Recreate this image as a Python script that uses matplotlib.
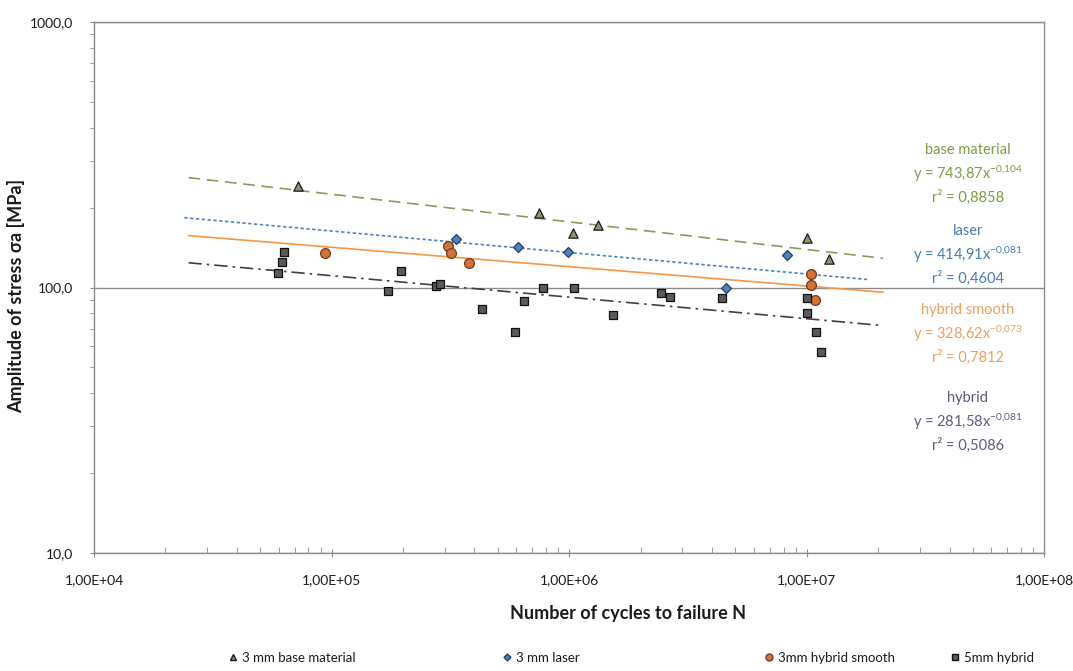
import numpy as np
import matplotlib
matplotlib.use("Agg")
import matplotlib.pyplot as plt
from matplotlib.lines import Line2D

plt.rcParams['font.family'] = ['Lato', 'DejaVu Sans']
plt.rcParams['mathtext.default'] = 'regular'

# 3 mm base material
base_n = [7.2e4, 7.5e5, 1.04e6, 1.33e6, 1.0e7, 1.24e7]
base_s = [241, 191, 161, 172, 154, 128]

# 3 mm laser
laser_n = [3.33e5, 6.1e5, 9.9e5, 4.6e6, 8.3e6]
laser_s = [152, 142, 136, 100, 133]

# 3mm hybrid smooth
smooth_n = [9.4e4, 3.1e5, 3.2e5, 3.8e5, 1.04e7, 1.04e7, 1.09e7]
smooth_s = [135, 143, 135, 124, 112, 102, 90]

# 5mm hybrid
hybrid_n = [6.3e4, 6.2e4, 5.95e4, 1.96e5, 1.73e5, 2.75e5, 2.87e5, 7.8e5, 1.05e6,
            6.45e5, 4.3e5, 1.53e6, 5.9e5, 2.43e6, 2.66e6, 4.4e6, 1.0e7, 1.0e7,
            1.1e7, 1.15e7]
hybrid_s = [136, 125, 113, 115, 97, 101, 103, 100, 100, 89, 83, 79, 68, 95, 92,
            91, 91, 80, 68, 57]

# power trendlines y = a * x^b
fit_names = ['base material', 'laser', 'hybrid smooth', 'hybrid']
fit_a = [743.87, 414.91, 328.62, 281.58]
fit_b = [-0.104, -0.081, -0.073, -0.081]
fit_a_txt = ['743,87', '414,91', '328,62', '281,58']
fit_b_txt = ['0{,}104', '0{,}081', '0{,}073', '0{,}081']
fit_r2 = ['0,8858', '0,4604', '0,7812', '0,5086']
fit_start = [2.5e4, 2.4e4, 2.5e4, 2.5e4]
fit_end = [2.1e7, 1.8e7, 2.1e7, 2.1e7]

xticks = [1e4, 1e5, 1e6, 1e7, 1e8]
xtick_labels = ['1,00E+04', '1,00E+05', '1,00E+06', '1,00E+07', '1,00E+08']
yticks = [10, 100, 1000]
ytick_labels = ['10,0', '100,0', '1000,0']

line_colors = ['#8A9A5B', '#4F81BD', '#F79646', '#3F3F3F']
line_styles = [(0, (7, 4)), (0, (2, 1.5)), '-', (0, (8, 3, 1.5, 3))]
text_colors = ['#7F9A48', '#4A7AAE', '#E9A05C', '#5B5B82']

fig = plt.figure(figsize=(10.73, 6.71), dpi=100)
ax = fig.add_axes([0.0876, 0.176, 0.8854, 0.791])
ax.set_xscale('log')
ax.set_yscale('log')
ax.set_xlim(1e4, 1e8)
ax.set_ylim(10, 1000)

for i in range(4):
    xs = np.logspace(np.log10(fit_start[i]), np.log10(fit_end[i]), 50)
    ax.plot(xs, fit_a[i] * xs ** fit_b[i], color=line_colors[i],
            linestyle=line_styles[i], linewidth=1.2, zorder=2)

ax.scatter(base_n, base_s, marker='^', s=45, facecolor='#8C9473', edgecolor='#1A1A1A', linewidth=0.9, zorder=4)
ax.scatter(laser_n, laser_s, marker='D', s=26, facecolor='#4F81BD', edgecolor='#24406A', linewidth=0.9, zorder=4)
ax.scatter(smooth_n, smooth_s, marker='o', s=50, facecolor='#D2733A', edgecolor='#6E3A1E', linewidth=0.9, zorder=4)
ax.scatter(hybrid_n, hybrid_s, marker='s', s=32, facecolor='#5A5A5A', edgecolor='#111111', linewidth=0.9, zorder=4)

ax.set_xticks(xticks)
ax.set_xticklabels(xtick_labels)
ax.set_yticks(yticks)
ax.set_yticklabels(ytick_labels)
ax.tick_params(axis='both', which='major', labelsize=10, colors='#8C8C8C', labelcolor='#1A1A1A', length=6)
ax.tick_params(axis='x', which='major', direction='inout', pad=12)
ax.tick_params(axis='x', which='minor', direction='in', length=4, colors='#8C8C8C')
ax.tick_params(axis='y', which='major', direction='inout', pad=12)
ax.tick_params(axis='y', which='minor', direction='out', length=3, colors='#8C8C8C')
ax.yaxis.set_minor_formatter(plt.NullFormatter())
ax.xaxis.set_minor_formatter(plt.NullFormatter())
ax.grid(True, which='major', axis='y', color='#8C8C8C', linewidth=1.0)
for sp in ax.spines.values():
    sp.set_color('#8C8C8C')
    sp.set_linewidth(1.0)

ax.set_xlabel('Number of cycles to failure N', fontsize=13, fontweight='bold', color='#1A1A1A')
ax.xaxis.set_label_coords(0.562, -0.098)
ax.set_ylabel('Amplitude of stress σa [MPa]', fontsize=13, fontweight='bold', color='#1A1A1A')
ax.yaxis.set_label_coords(-0.073, 0.484)

# trendline equations at the right side
label_y = [152, 233, 312, 400]
for i in range(4):
    y0 = label_y[i]
    txt = '%s\ny = %sx$^{-%s}$\nr² = %s' % (fit_names[i], fit_a_txt[i], fit_b_txt[i], fit_r2[i])
    fig.text(968 / 1073, 1 - (y0 - 9) / 671, txt, ha='center', va='top',
             fontsize=10.5, color=text_colors[i], linespacing=1.45)

handles = [
    Line2D([], [], marker='^', linestyle='none', markersize=5, markerfacecolor='#8C9473', markeredgecolor='#1A1A1A'),
    Line2D([], [], marker='D', linestyle='none', markersize=3.5, markerfacecolor='#4F81BD', markeredgecolor='#24406A'),
    Line2D([], [], marker='o', linestyle='none', markersize=5, markerfacecolor='#D2733A', markeredgecolor='#6E3A1E'),
    Line2D([], [], marker='s', linestyle='none', markersize=4.5, markerfacecolor='#5A5A5A', markeredgecolor='#111111'),
]
names = ['3 mm base material', '3 mm laser', '3mm hybrid smooth', '5mm hybrid']
leg_x = [236, 510, 772, 958]
for h, n, lx in zip(handles, names, leg_x):
    lg = fig.legend([h], [n], loc='center left', bbox_to_anchor=(lx / 1073 - 0.008, 1 - 658 / 671),
                    frameon=False, fontsize=9.5, handlelength=0.8, handletextpad=0.3,
                    borderaxespad=0, borderpad=0)
    for t in lg.get_texts():
        t.set_color('#1A1A1A')

fig.savefig('out.png', dpi=100)
